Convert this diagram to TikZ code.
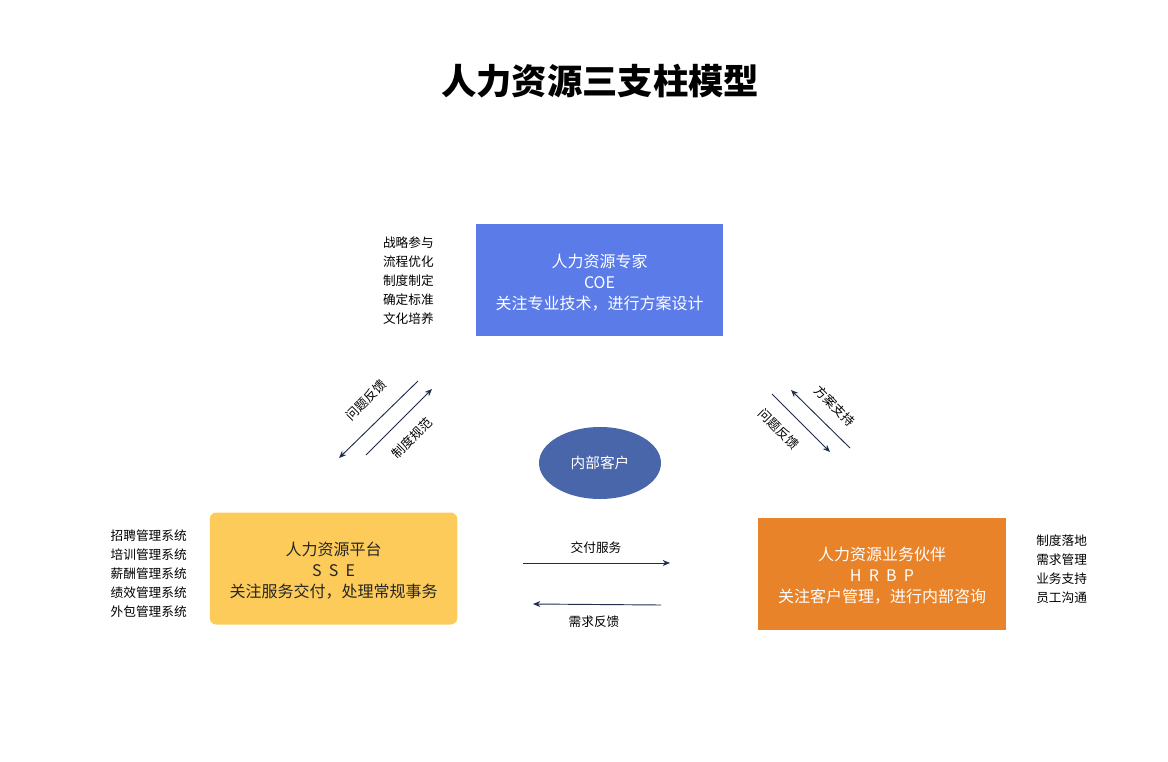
\documentclass[tikz,border=0pt]{standalone}
\usepackage{fontspec}
\setmainfont{Noto Sans CJK SC}
\usetikzlibrary{arrows.meta,shapes.geometric}
\definecolor{coeblue}{HTML}{5A7BE8}
\definecolor{ssey}{HTML}{FDCB5A}
\definecolor{hrbpo}{HTML}{E8832A}
\definecolor{ellb}{HTML}{4A66AA}
\definecolor{navy}{HTML}{1F2D4D}
\tikzset{
  mainbox/.style={minimum width=247.5*0.75pt, minimum height=112*0.75pt, inner sep=0pt, align=center, font=\fontsize{12}{15.75}\selectfont},
  listtxt/.style={align=left, inner sep=0pt, font=\fontsize{9.5}{14.25}\selectfont, text=black},
  lbl/.style={inner sep=0pt, font=\fontsize{9.5}{11}\selectfont, text=black},
  arr/.style={draw=navy, line width=0.7pt, -{Stealth[length=5.5pt,width=4.5pt]}}
}
\newcommand{\spc}{\hspace{0.45em}}
\newcommand{\tallstrut}{\rule{0pt}{14pt}}
\begin{document}
\begin{tikzpicture}[x=0.75pt,y=-0.75pt]
\useasboundingbox (0,0) rectangle (1168,761);
\node[font=\fontsize{26.5}{30}\bfseries\selectfont] (title) at (600,81) {人力资源三支柱模型};
% boxes
\node[mainbox, fill=coeblue, text=white] (coe) at (599.5,280) {\tallstrut{}人力资源专家\\COE\\关注专业技术，进行方案设计};
\node[mainbox, fill=ssey, text=black!85, rounded corners=5pt] (sse) at (333.5,568.5) {\tallstrut{}人力资源平台\\S\spc S\spc E\\关注服务交付，处理常规事务};
\node[mainbox, fill=hrbpo, text=white] (hrbp) at (882,573.5) {\tallstrut{}人力资源业务伙伴\\H\spc R\spc B\spc P\\关注客户管理，进行内部咨询};
\node[ellipse, fill=ellb, minimum width=122*0.75pt, minimum height=72*0.75pt, inner sep=0pt, text=white, font=\fontsize{11}{13}\selectfont] (kh) at (600,463) {内部客户};
% lists
\node[listtxt, anchor=north east] (l1) at (434,237) {战略参与\\流程优化\\制度制定\\确定标准\\文化培养};
\node[listtxt, anchor=north east] (l2) at (187,530) {招聘管理系统\\培训管理系统\\薪酬管理系统\\绩效管理系统\\外包管理系统};
\node[listtxt, anchor=north west] (l3) at (1036,535) {制度落地\\需求管理\\业务支持\\员工沟通};
% arrow endpoints
\coordinate (a1s) at (418,381); \coordinate (a1e) at (339,458);
\coordinate (a2s) at (366,455); \coordinate (a2e) at (432,389);
\coordinate (b1s) at (772,394); \coordinate (b1e) at (830,452);
\coordinate (b2s) at (850,448); \coordinate (b2e) at (791,390);
\coordinate (c1s) at (523,563); \coordinate (c1e) at (670,563);
\coordinate (c2s) at (661,605); \coordinate (c2e) at (533,604);
\draw[arr] (a1s) -- (a1e);
\draw[arr] (a2s) -- (a2e);
\draw[arr] (b1s) -- (b1e);
\draw[arr] (b2s) -- (b2e);
\draw[arr] (c1s) -- (c1e);
\draw[arr] (c2s) -- (c2e);
% labels
\node[lbl, rotate=45] (t1) at (366,400) {问题反馈};
\node[lbl, rotate=45] (t2) at (412,438) {制度规范};
\node[lbl, rotate=-45] (t3) at (779,429) {问题反馈};
\node[lbl, rotate=-45] (t4) at (835,406) {方案支持};
\node[lbl] (t5) at (596,548) {交付服务};
\node[lbl] (t6) at (594,622) {需求反馈};
\end{tikzpicture}
\end{document}
